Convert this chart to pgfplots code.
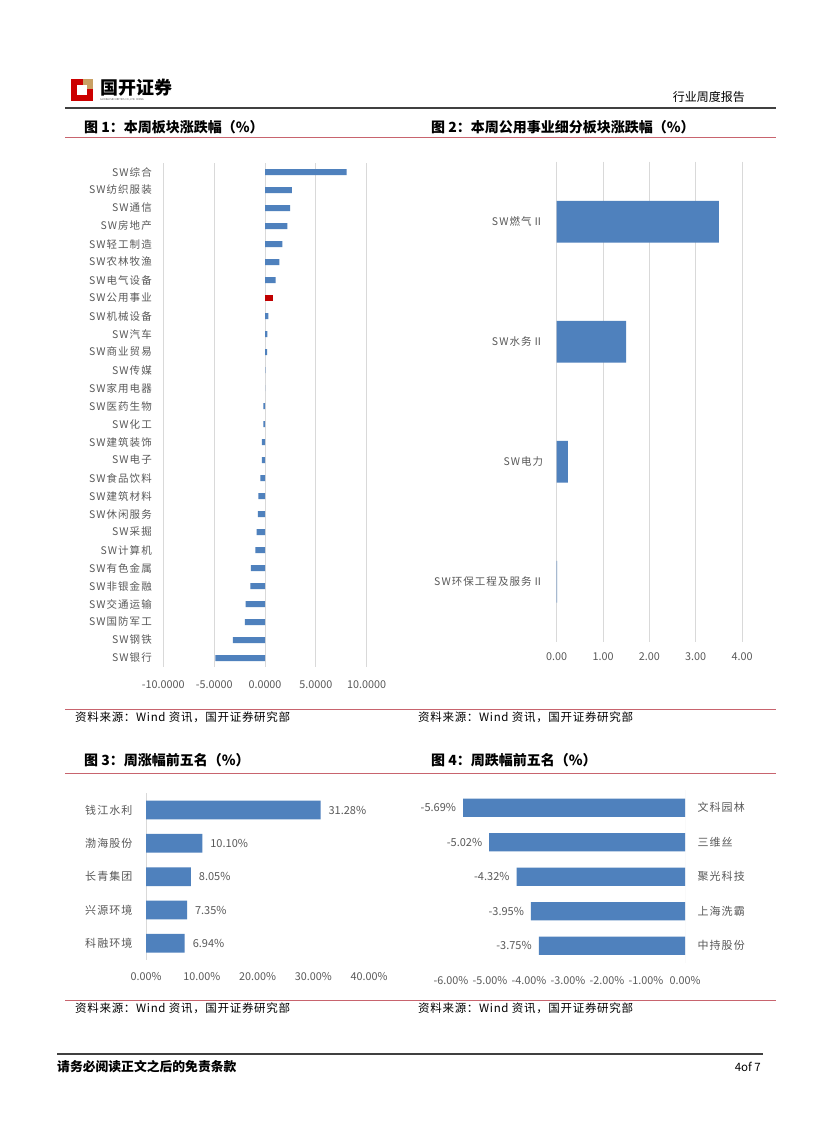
\documentclass[border=0pt]{standalone}
\usepackage{pgfplots}
\pgfplotsset{compat=1.18}
\usepackage{fontspec}
\setmainfont{Noto Sans CJK SC}
\newfontfamily\lbl[LetterSpace=10]{Noto Sans CJK SC}
\newfontfamily\src[LetterSpace=6]{Noto Sans CJK SC}

\definecolor{barblue}{HTML}{4F81BD}
\definecolor{barred}{HTML}{C00000}
\definecolor{gridgray}{HTML}{D9D9D9}
\definecolor{tickgray}{HTML}{595959}
\definecolor{rulepink}{HTML}{C8646E}
\definecolor{ruledark}{HTML}{404040}
\definecolor{logogold}{HTML}{C9A063}

\pgfplotsset{
  page chart/.style={
    scale only axis,
    axis line style={draw=none},
    tick style={draw=none},
    major tick length=0pt,
    xticklabel style={font=\fontsize{10.8}{11}\selectfont, text=tickgray},
    yticklabel style={font=\lbl\fontsize{10.5}{11}\selectfont, text=tickgray},
    y dir=reverse,
    xbar,
  },
}

\begin{document}
\begin{tikzpicture}
\path[fill=white, use as bounding box] (0pt,0pt) rectangle (827pt,-1122pt);

\begin{scope}[x=1pt,y=-1pt]
  % header
  \fill[red!80!black] (71,79) rectangle (93,101);
  \fill[logogold] (83,79) rectangle (93,89);
  \fill[white] (77,85) rectangle (87,95);
  \node[anchor=west, font=\bfseries\fontsize{18}{18}\selectfont, inner sep=0] at (100,88) {国开证券};
  \node[anchor=west, font=\fontsize{2.6}{3}\selectfont, text=black!70, inner sep=0] at (100,100) {GUOKAI SECURITIES CO.,LTD. CHINA};
  \node[anchor=east, font=\fontsize{12}{12}\selectfont, inner sep=0] at (745,97) {行业周度报告};
  \draw[ruledark, line width=2pt] (65,108) -- (776,108);

  % titles
  \node[anchor=west, font=\bfseries\fontsize{14}{14}\selectfont, inner sep=0] at (84,127) {图 1：本周板块涨跌幅（\%）};
  \node[anchor=west, font=\bfseries\fontsize{14}{14}\selectfont, inner sep=0] at (431,127) {图 2：本周公用事业细分板块涨跌幅（\%）};
  \draw[rulepink, line width=0.8pt] (65,137) -- (776,137);

  \draw[rulepink, line width=0.8pt] (65,709) -- (776,709);
  \node[anchor=west, font=\src\fontsize{11.5}{12}\selectfont, inner sep=0] at (75,717) {资料来源：Wind 资讯，国开证券研究部};
  \node[anchor=west, font=\src\fontsize{11.5}{12}\selectfont, inner sep=0] at (418,717) {资料来源：Wind 资讯，国开证券研究部};

  \node[anchor=west, font=\bfseries\fontsize{14}{14}\selectfont, inner sep=0] at (84,760) {图 3：周涨幅前五名（\%）};
  \node[anchor=west, font=\bfseries\fontsize{14}{14}\selectfont, inner sep=0] at (431,760) {图 4：周跌幅前五名（\%）};
  \draw[rulepink, line width=0.8pt] (65,773) -- (776,773);

  \draw[rulepink, line width=0.8pt] (65,1000) -- (776,1000);
  \node[anchor=west, font=\src\fontsize{11.5}{12}\selectfont, inner sep=0] at (75,1008) {资料来源：Wind 资讯，国开证券研究部};
  \node[anchor=west, font=\src\fontsize{11.5}{12}\selectfont, inner sep=0] at (418,1008) {资料来源：Wind 资讯，国开证券研究部};

  % footer
  \draw[ruledark, line width=1.8pt] (57,1054) -- (763,1054);
  \node[anchor=west, font=\bfseries\fontsize{12.8}{13}\selectfont, inner sep=0] at (57,1067) {请务必阅读正文之后的免责条款};
  \node[anchor=east, font=\fontsize{11.5}{12}\selectfont, inner sep=0] at (761,1067) {4of 7};
\end{scope}

% chart 1
\begin{axis}[page chart,
  at={(163.3pt,-163pt)}, anchor=north west,
  width=203.4pt, height=504pt,
  xmin=-10, xmax=10, ymin=-0.5, ymax=27.5,
  bar width=6pt,
  xtick={-10,-5,0,5,10},
  xticklabels={-10.0000,-5.0000,0.0000,5.0000,10.0000},
  ytick={0,...,27},
  yticklabels={SW综合,SW纺织服装,SW通信,SW房地产,SW轻工制造,SW农林牧渔,SW电气设备,SW公用事业,SW机械设备,SW汽车,SW商业贸易,SW传媒,SW家用电器,SW医药生物,SW化工,SW建筑装饰,SW电子,SW食品饮料,SW建筑材料,SW休闲服务,SW采掘,SW计算机,SW有色金属,SW非银金融,SW交通运输,SW国防军工,SW钢铁,SW银行},
  xmajorgrids, major grid style={draw=gridgray, line width=0.8pt},
  xticklabel style={yshift=-10pt},
  yticklabel style={xshift=-8pt},
]
\addplot[fill=barblue, draw=none, bar shift=0pt] table[x=v, y=i] {
i v
0 8.03
1 2.65
2 2.46
3 2.20
4 1.70
5 1.41
6 1.05
8 0.33
9 0.23
10 0.20
11 0.03
12 0.01
13 -0.15
14 -0.15
15 -0.30
16 -0.30
17 -0.46
18 -0.66
19 -0.69
20 -0.82
21 -0.95
22 -1.38
23 -1.44
24 -1.90
25 -1.97
26 -3.15
27 -4.89
};
\addplot[fill=barred, draw=none, bar shift=0pt] table[x=v, y=i] {
i v
7 0.79
};
\end{axis}

% chart 2
\begin{axis}[page chart,
  at={(556.7pt,-161.7pt)}, anchor=north west,
  width=185.3pt, height=480pt,
  xmin=0, xmax=4, ymin=-0.5, ymax=3.5,
  bar width=41.7pt,
  xtick={0,1,2,3,4},
  xticklabels={0.00,1.00,2.00,3.00,4.00},
  ytick={0,1,2,3},
  yticklabels={SW燃气Ⅱ,SW水务Ⅱ,SW电力,SW环保工程及服务Ⅱ},
  xmajorgrids, major grid style={draw=gridgray, line width=0.8pt},
  xticklabel style={yshift=-7pt},
  yticklabel style={xshift=-10pt},
]
\addplot[fill=barblue, draw=none, bar shift=0pt] table[x=v, y=i] {
i v
0 3.50
1 1.50
2 0.24
3 0.01
};
\end{axis}

% chart 3
\begin{axis}[page chart,
  at={(146pt,-793.3pt)}, anchor=north west,
  width=223.2pt, height=166.7pt,
  xmin=0, xmax=40, ymin=-0.5, ymax=4.5,
  bar width=18.7pt,
  xtick={0,10,20,30,40},
  xticklabels={0.00\%,10.00\%,20.00\%,30.00\%,40.00\%},
  ytick={0,...,4},
  yticklabels={钱江水利,渤海股份,长青集团,兴源环境,科融环境},
  xticklabel style={yshift=-9pt},
  yticklabel style={font=\lbl\fontsize{11}{12}\selectfont, xshift=-10pt},
  point meta=explicit symbolic,
  nodes near coords={\pgfplotspointmeta\%},
  every node near coord/.append style={anchor=west, xshift=4.5pt, text=tickgray, font=\fontsize{11}{11}\selectfont},
]
\draw[gridgray, line width=0.8pt] (axis cs:0,-0.5) -- (axis cs:0,4.5);
\addplot[fill=barblue, draw=none, bar shift=0pt] table[x=v, y=i, meta=lab] {
i v lab
0 31.28 31.28
1 10.10 10.10
2 8.05 8.05
3 7.35 7.35
4 6.94 6.94
};
\end{axis}

% chart 4
\begin{axis}[page chart,
  at={(685pt,-790.45pt)}, anchor=north east,
  width=234pt, height=172.5pt,
  xmin=-6, xmax=0, ymin=-0.5, ymax=4.5,
  bar width=18.3pt,
  xtick={-6,-5,-4,-3,-2,-1,0},
  xticklabels={-6.00\%,-5.00\%,-4.00\%,-3.00\%,-2.00\%,-1.00\%,0.00\%},
  ytick={0,...,4},
  yticklabels={文科园林,三维丝,聚光科技,上海洗霸,中持股份},
  yticklabel pos=right,
  xticklabel style={yshift=-10pt},
  yticklabel style={font=\lbl\fontsize{11}{12}\selectfont, xshift=9pt},
  point meta=explicit symbolic,
  nodes near coords={\pgfplotspointmeta\%},
  every node near coord/.append style={anchor=east, xshift=-3.5pt, text=tickgray, font=\fontsize{11}{11}\selectfont},
]
\draw[gridgray, line width=0.8pt] (axis cs:0,-0.5) -- (axis cs:0,4.5);
\addplot[fill=barblue, draw=none, bar shift=0pt] table[x=v, y=i, meta=lab] {
i v lab
0 -5.69 -5.69
1 -5.02 -5.02
2 -4.32 -4.32
3 -3.95 -3.95
4 -3.75 -3.75
};
\end{axis}
\end{tikzpicture}
\end{document}
